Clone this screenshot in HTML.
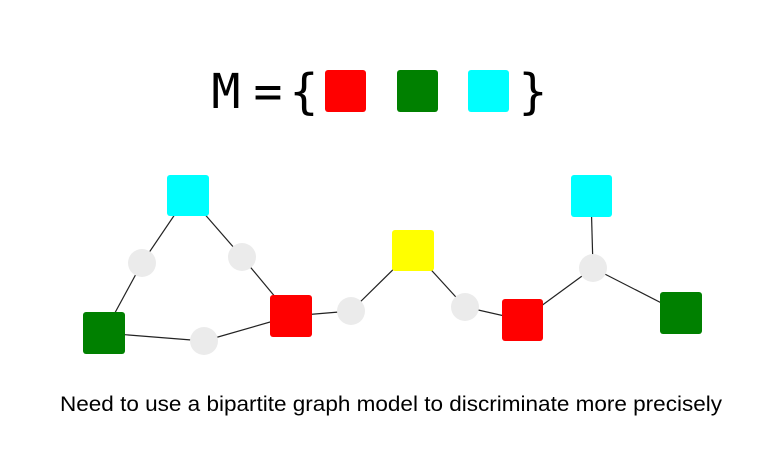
<!DOCTYPE html>
<html><head><meta charset="utf-8"><style>
html,body{margin:0;padding:0;background:#fff;}
svg{display:block;}
</style></head><body>
<svg width="780" height="456" viewBox="0 0 780 456" xmlns="http://www.w3.org/2000/svg">
<g font-family="'DejaVu Sans Mono','Liberation Mono',monospace" font-size="48" text-anchor="middle" fill="#000">
<text x="226" y="108">M</text>
<text x="268" y="108">=</text>
<text x="304" y="108">{</text>
<text x="533" y="108">}</text>
</g>
<rect x="325" y="70" width="41" height="42" rx="3" fill="#ff0000"/>
<rect x="397" y="70" width="41" height="42" rx="3" fill="#008000"/>
<rect x="468" y="70" width="41" height="42" rx="3" fill="#00ffff"/>
<g stroke="#222" stroke-width="1.2">
<line x1="188" y1="195" x2="142" y2="263"/>
<line x1="142" y1="263" x2="104" y2="333"/>
<line x1="188" y1="195" x2="242" y2="257"/>
<line x1="242" y1="257" x2="291" y2="316"/>
<line x1="104" y1="333" x2="204" y2="341"/>
<line x1="204" y1="341" x2="291" y2="316"/>
<line x1="291" y1="316" x2="351" y2="311"/>
<line x1="351" y1="311" x2="413" y2="250"/>
<line x1="413" y1="250" x2="465" y2="307"/>
<line x1="465" y1="307" x2="522" y2="320"/>
<line x1="522" y1="320" x2="593" y2="268"/>
<line x1="593" y1="268" x2="591" y2="196"/>
<line x1="593" y1="268" x2="681" y2="313"/>
</g>
<g fill="#ebebeb">
<circle cx="142" cy="263" r="14"/>
<circle cx="242" cy="257" r="14"/>
<circle cx="204" cy="341" r="14"/>
<circle cx="351" cy="311" r="14"/>
<circle cx="465" cy="307" r="14"/>
<circle cx="593" cy="268" r="14"/>
</g>
<rect x="167" y="175" width="42" height="41" rx="3" fill="#00ffff"/>
<rect x="83" y="312" width="42" height="42" rx="3" fill="#008000"/>
<rect x="270" y="295" width="42" height="42" rx="3" fill="#ff0000"/>
<rect x="392" y="230" width="42" height="41" rx="3" fill="#ffff00"/>
<rect x="502" y="299" width="41" height="42" rx="3" fill="#ff0000"/>
<rect x="571" y="175" width="41" height="42" rx="3" fill="#00ffff"/>
<rect x="660" y="292" width="42" height="42" rx="3" fill="#008000"/>
<text x="60" y="411" font-family="'Liberation Sans',sans-serif" font-size="21" textLength="662" lengthAdjust="spacingAndGlyphs" fill="#000">Need to use a bipartite graph model to discriminate more precisely</text>
</svg>
</body></html>
